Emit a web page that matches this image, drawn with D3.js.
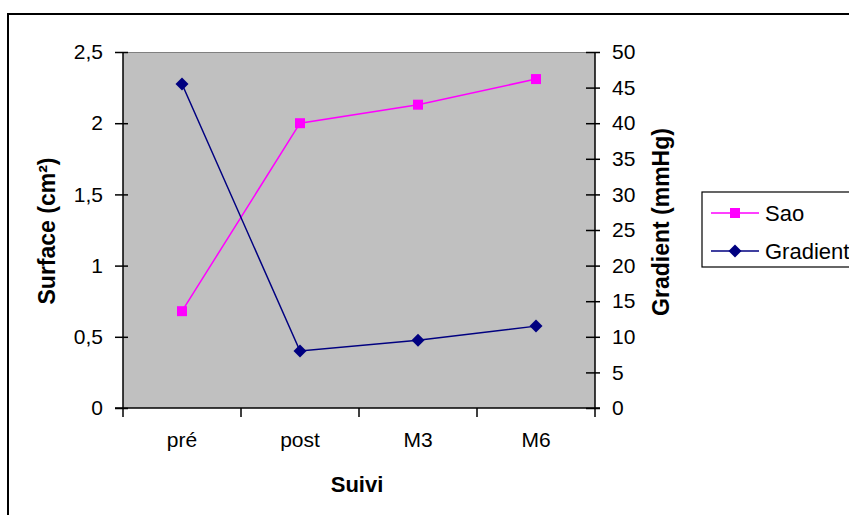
<!DOCTYPE html>
<html>
<head>
<meta charset="utf-8">
<script src="https://cdn.jsdelivr.net/npm/d3@7"></script>
<style>
  html, body { margin: 0; padding: 0; background: #fff; }
  svg { display: block; font-family: "Liberation Sans", Arial, sans-serif; }
</style>
</head>
<body>
<svg id="chart" width="849" height="515"></svg>
<script>
const categories = ["pré", "post", "M3", "M6"];
const saoValues = [0.68, 2.0, 2.13, 2.31];
const gradientValues = [45.5, 8.0, 9.5, 11.5];
const leftTicks = [0, 0.5, 1, 1.5, 2, 2.5];
const rightTicks = [0, 5, 10, 15, 20, 25, 30, 35, 40, 45, 50];
const seriesNames = ["Sao", "Gradient"];

const svg = d3.select("#chart");
const plot = { left: 123, top: 52, right: 595, bottom: 408 };

// outer frame
svg.append("rect").attr("x", 8).attr("y", 14).attr("width", 900).attr("height", 600)
  .attr("fill", "#fff").attr("stroke", "#000").attr("stroke-width", 2);

const x = d3.scaleBand().domain(categories).range([plot.left, plot.right]);
const yL = d3.scaleLinear().domain([0, 2.5]).range([plot.bottom, plot.top]);
const yR = d3.scaleLinear().domain([0, 50]).range([plot.bottom, plot.top]);

// plot area
svg.append("rect").attr("x", plot.left).attr("y", plot.top)
  .attr("width", plot.right - plot.left).attr("height", plot.bottom - plot.top)
  .attr("fill", "#C0C0C0");
svg.append("line").attr("x1", plot.left).attr("x2", plot.right)
  .attr("y1", plot.top + 0.5).attr("y2", plot.top + 0.5).attr("stroke", "#808080");

const fmt = d => String(d).replace(".", ",");

// left axis
const gL = svg.append("g").attr("transform", `translate(${plot.left},0)`)
  .call(d3.axisLeft(yL).tickValues(leftTicks).tickFormat(fmt).tickSize(8).tickPadding(12));
gL.selectAll(".tick line").attr("x2", 5).attr("x1", -8);
// right axis
const gR = svg.append("g").attr("transform", `translate(${plot.right},0)`)
  .call(d3.axisRight(yR).tickValues(rightTicks).tickSize(5).tickPadding(12));
gR.selectAll(".tick line").attr("x1", -9).attr("x2", 5);
// bottom axis
const gB = svg.append("g").attr("transform", `translate(0,${plot.bottom})`)
  .call(d3.axisBottom(x).tickSize(0).tickPadding(24));
gB.selectAll(".tick line").remove();
const bounds = categories.map(c => x(c)).concat([plot.right]);
gB.selectAll(".bt").data(bounds).enter().append("line")
  .attr("x1", d => d).attr("x2", d => d).attr("y1", 0).attr("y2", 9).attr("stroke", "#000").attr("stroke-width", 1.5);

[gL, gR, gB].forEach(g => {
  g.select(".domain").attr("stroke", "#000").attr("stroke-width", 1.5);
  g.selectAll(".tick line").attr("stroke", "#000").attr("stroke-width", 1.5);
  g.selectAll("text").attr("font-size", 21).attr("fill", "#000")
    .attr("font-family", '"Liberation Sans", Arial, sans-serif');
});
gL.select(".domain").attr("d", `M0,${plot.top}V${plot.bottom}`);
gR.select(".domain").attr("d", `M0,${plot.top}V${plot.bottom}`);
gB.select(".domain").attr("d", `M${plot.left - 8},0H${plot.right + 5}`);

// titles
svg.append("text").attr("x", 357).attr("y", 484).attr("text-anchor", "middle")
  .attr("dominant-baseline", "central").attr("font-weight", "bold").attr("font-size", 22).text("Suivi");
svg.append("text").attr("transform", "translate(47,231) rotate(-90)").attr("text-anchor", "middle")
  .attr("dominant-baseline", "central").attr("font-weight", "bold").attr("font-size", 23).text("Surface (cm²)");
svg.append("text").attr("transform", "translate(661,222) rotate(-90)").attr("text-anchor", "middle")
  .attr("dominant-baseline", "central").attr("font-weight", "bold").attr("font-size", 23).text("Gradient (mmHg)");

const cx = c => x(c) + x.bandwidth() / 2;
const sqr = d3.symbol().type(d3.symbolSquare).size(100);
const dia = (s) => `M0,${-s}L${s},0L0,${s}L${-s},0Z`;

// Sao line
const lineL = d3.line().x((d, i) => cx(categories[i])).y(d => yL(d));
svg.append("path").attr("d", lineL(saoValues)).attr("fill", "none").attr("stroke", "#FF00FF").attr("stroke-width", 1.5);
svg.selectAll(".sao").data(saoValues).enter().append("path")
  .attr("d", sqr).attr("transform", (d, i) => `translate(${cx(categories[i])},${yL(d)})`).attr("fill", "#FF00FF");

// Gradient line
const lineR = d3.line().x((d, i) => cx(categories[i])).y(d => yR(d));
svg.append("path").attr("d", lineR(gradientValues)).attr("fill", "none").attr("stroke", "#000080").attr("stroke-width", 1.5);
svg.selectAll(".grad").data(gradientValues).enter().append("path")
  .attr("d", dia(6.5)).attr("transform", (d, i) => `translate(${cx(categories[i])},${yR(d)})`).attr("fill", "#000080");

// legend
svg.append("rect").attr("x", 702).attr("y", 192).attr("width", 200).attr("height", 75)
  .attr("fill", "#fff").attr("stroke", "#000").attr("stroke-width", 1.2);
const legColors = ["#FF00FF", "#000080"];
const legY = [213, 251];
seriesNames.forEach((n, i) => {
  svg.append("line").attr("x1", 711).attr("x2", 759).attr("y1", legY[i]).attr("y2", legY[i])
    .attr("stroke", legColors[i]).attr("stroke-width", 1.5);
  svg.append("path").attr("d", i === 0 ? sqr() : dia(6.5))
    .attr("transform", `translate(735,${legY[i]})`).attr("fill", legColors[i]);
  svg.append("text").attr("x", 765).attr("y", legY[i]).attr("dominant-baseline", "central")
    .attr("font-size", 22).text(n);
});
</script>
</body>
</html>
